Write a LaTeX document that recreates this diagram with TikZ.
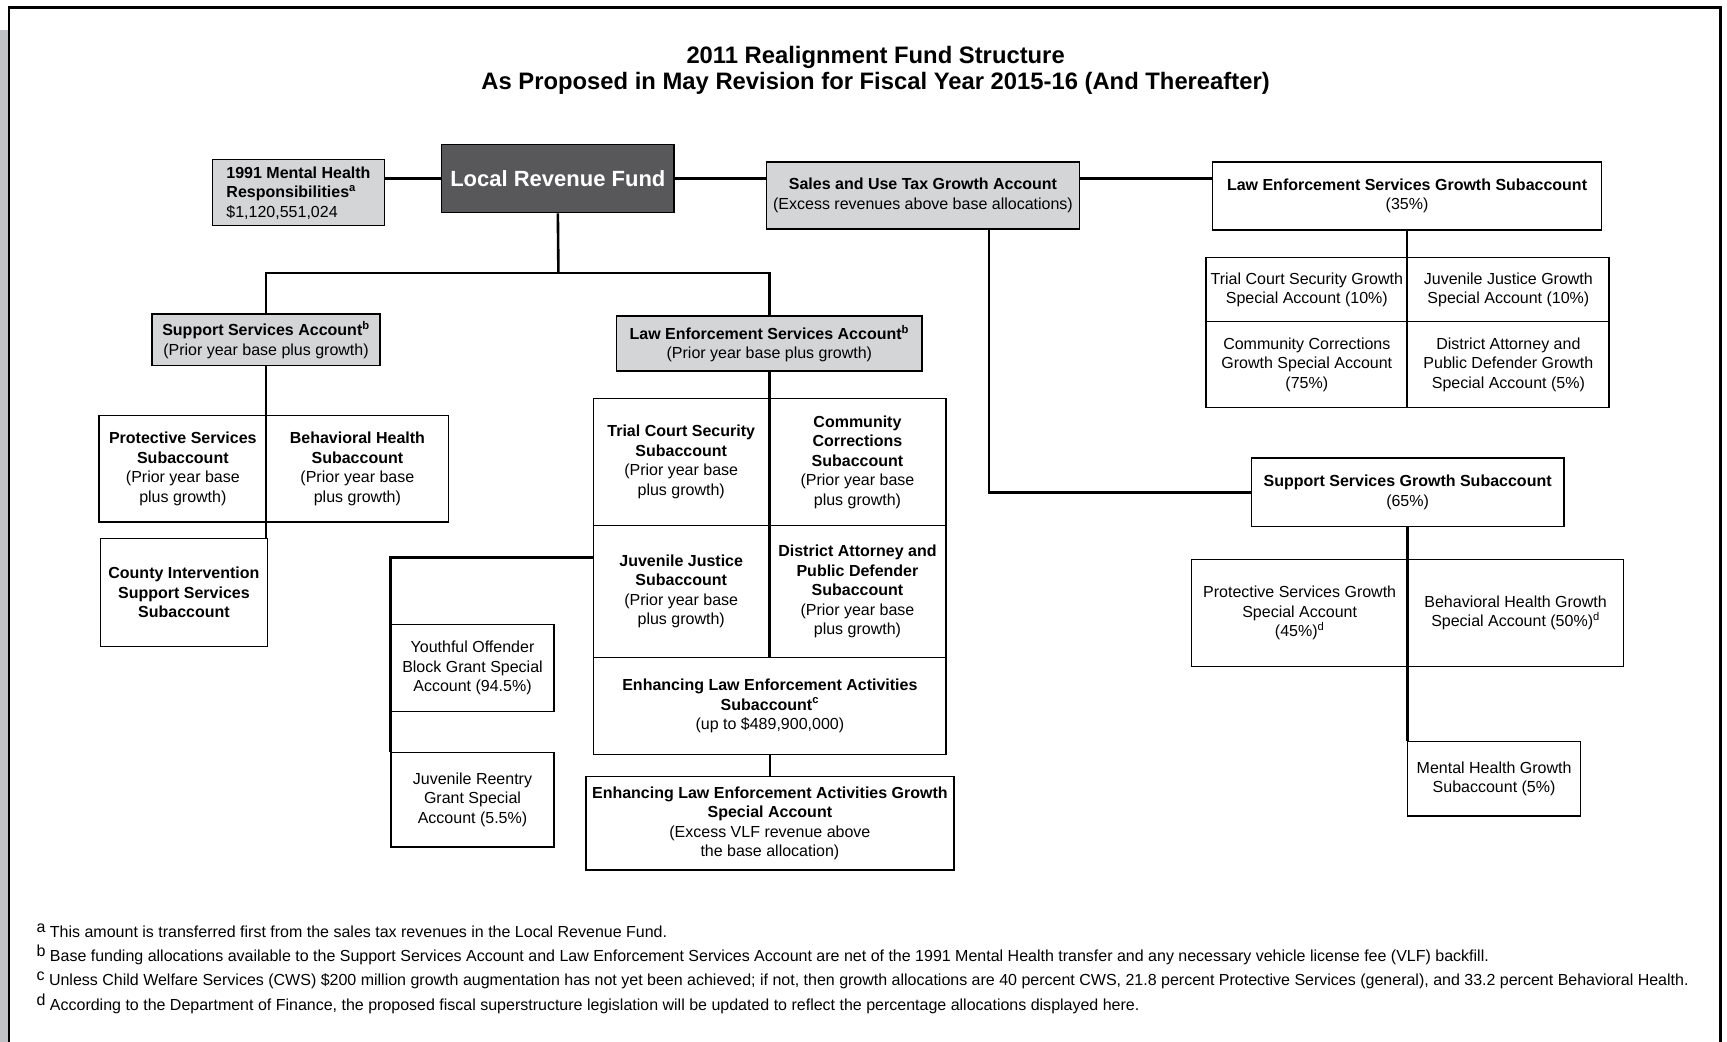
\documentclass[tikz,border=0pt]{standalone}
\usepackage{fontspec}
\setmainfont{Liberation Sans}
\definecolor{lgray}{RGB}{212,213,215}
\definecolor{dgray}{RGB}{88,88,90}
\definecolor{band}{RGB}{192,193,196}
\tikzset{
  conn/.style={line width=2.6pt},
  bx/.style={draw, line width=1.4pt, fill=white, align=center, inner sep=0pt,
    font=\fontsize{16}{19.5}\selectfont},
  gbx/.style={bx, fill=lgray},
  dbx/.style={bx, fill=dgray, text=white, font=\fontsize{22}{26}\selectfont\bfseries},
  fn/.style={inner sep=0pt, font=\fontsize{16}{18}\selectfont},
}
\newcommand\bxat[7]{%
  \node[#2, minimum width={(#5-#3)*1.1014pt}, minimum height={(#6-#4)*1.1014pt}]
    (#1) at ({(#3+#5)/2},{(#4+#6)/2}) {#7};}
\newcommand\fnl[1]{\raisebox{5pt}{#1}\hspace{4.5pt}}
\begin{document}
\begin{tikzpicture}[x=1.1014pt,y=-1.1014pt]
\useasboundingbox (0,0) rectangle (1568,946);
% page frame
\fill[band] (0,27) rectangle (7.5,946);
\draw[line width=2.8pt] (8.2,950) -- (8.2,6.7) -- (1562,6.7) -- (1562,950);

% title
\node[font=\fontsize{23.8}{25.5}\selectfont\bfseries, align=center] (title) at (795,64)
  {2011 Realignment Fund Structure\\As Proposed in May Revision for Fiscal Year 2015-16 (And Thereafter)};

% top row
\bxat{mh}{gbx,align=left}{193}{145}{349}{205}{\textbf{1991 Mental Health}\\\textbf{Responsibilities}\textsuperscript{\textbf{a}}\\\$1,120,551,024}
\bxat{lrf}{dbx}{401}{131}{612}{193}{Local Revenue Fund}
\bxat{sales}{gbx}{696}{147}{980}{208}{\textbf{Sales and Use Tax Growth Account}\\(Excess revenues above base allocations)}
\bxat{lesgs}{bx}{1101}{147}{1454}{209}{\textbf{Law Enforcement Services Growth Subaccount}\\(35\%)}

% law enforcement growth special accounts
\bxat{tcsg}{bx}{1095}{234}{1278}{292}{Trial Court Security Growth\\Special Account (10\%)}
\bxat{jjg}{bx}{1278}{234}{1461}{292}{Juvenile Justice Growth\\Special Account (10\%)}
\bxat{ccg}{bx}{1095}{292}{1278}{370}{Community Corrections\\Growth Special Account\\(75\%)}
\bxat{dapg}{bx}{1278}{292}{1461}{370}{District Attorney and\\Public Defender Growth\\Special Account (5\%)}

% support services growth
\bxat{ssgs}{bx}{1136}{416}{1420}{478}{\textbf{Support Services Growth Subaccount}\\(65\%)}
\bxat{psg}{bx}{1082}{508}{1278}{605}{Protective Services Growth\\Special Account\\(45\%)\textsuperscript{d}}
\bxat{bhg}{bx}{1278}{508}{1474}{605}{Behavioral Health Growth\\Special Account (50\%)\textsuperscript{d}}
\bxat{mhg}{bx}{1278}{673}{1435}{741}{Mental Health Growth\\Subaccount (5\%)}

% accounts
\bxat{ssa}{gbx}{138}{285}{345}{332}{\textbf{Support Services Account}\textsuperscript{\textbf{b}}\\(Prior year base plus growth)}
\bxat{lesa}{gbx}{560}{287}{837}{337}{\textbf{Law Enforcement Services Account}\textsuperscript{\textbf{b}}\\(Prior year base plus growth)}

% support services subaccounts
\bxat{ps}{bx}{90}{377}{242}{474}{\textbf{Protective Services}\\\textbf{Subaccount}\\(Prior year base\\plus growth)}
\bxat{bh}{bx}{242}{377}{407}{474}{\textbf{Behavioral Health}\\\textbf{Subaccount}\\(Prior year base\\plus growth)}
\bxat{cis}{bx}{91}{489}{243}{587}{\textbf{County Intervention}\\\textbf{Support Services}\\\textbf{Subaccount}}

% law enforcement subaccounts
\bxat{tcs}{bx}{539}{362}{698}{477}{\textbf{Trial Court Security}\\\textbf{Subaccount}\\(Prior year base\\plus growth)}
\bxat{cc}{bx}{698}{362}{859}{477}{\textbf{Community}\\\textbf{Corrections}\\\textbf{Subaccount}\\(Prior year base\\plus growth)}
\bxat{jj}{bx}{539}{477}{698}{597}{\textbf{Juvenile Justice}\\\textbf{Subaccount}\\(Prior year base\\plus growth)}
\bxat{dapd}{bx}{698}{477}{859}{597}{\textbf{District Attorney and}\\\textbf{Public Defender}\\\textbf{Subaccount}\\(Prior year base\\plus growth)}
\bxat{elea}{bx}{539}{597}{859}{685}{\textbf{Enhancing Law Enforcement Activities}\\\textbf{Subaccount}\textsuperscript{\textbf{c}}\\(up to \$489,900,000)}
\bxat{eleag}{bx}{532}{705}{866}{790}{\textbf{Enhancing Law Enforcement Activities Growth}\\\textbf{Special Account}\\(Excess VLF revenue above\\the base allocation)}
\bxat{yo}{bx}{355}{567}{503}{646}{Youthful Offender\\Block Grant Special\\Account (94.5\%)}
\bxat{jr}{bx}{355}{683}{503}{769}{Juvenile Reentry\\Grant Special\\Account (5.5\%)}

% connectors
\draw[conn] (mh.east |- lrf.west) -- (lrf.west);
\draw[conn] (lrf.east) -- (lrf.east -| sales.west);
\draw[conn] (lrf.east -| sales.east) -- (lrf.east -| lesgs.west);
\coordinate (j1) at (507,248);
\draw[conn] (lrf.south) -- (j1);
\draw[conn] (ssa.north) |- (j1) -| (lesa.north);
\draw[conn] (ssa.south) -- (ssa.south |- cis.north);
\draw[conn] (lesa.south) -- (lesa.south |- elea.north);
\draw[conn] (elea.south) -- (eleag.north);
\draw[conn] (jj.west |- 0,506) -| (jr.north west);
\draw[conn] (sales.south -| 898,0) |- (ssgs.west);
\draw[conn] (lesgs.south) -- (lesgs.south |- ccg.south);
\draw[conn] (ssgs.south) -- (ssgs.south |- mhg.north);

% footnotes
\node[fn, anchor=base west] (fa) at (33,851) {\fnl{a}This amount is transferred first from the sales tax revenues in the Local Revenue Fund.};
\node[fn, anchor=base west] (fb) at (33,873) {\fnl{b}Base funding allocations available to the Support Services Account and Law Enforcement Services Account are net of the 1991 Mental Health transfer and any necessary vehicle license fee (VLF) backfill.};
\node[fn, anchor=base west] (fc) at (33,895) {\fnl{c}Unless Child Welfare Services (CWS) \$200 million growth augmentation has not yet been achieved; if not, then growth allocations are 40 percent CWS, 21.8 percent Protective Services (general), and 33.2 percent Behavioral Health.};
\node[fn, anchor=base west] (fd) at (33,917) {\fnl{d}According to the Department of Finance, the proposed fiscal superstructure legislation will be updated to reflect the percentage allocations displayed here.};
\end{tikzpicture}
\end{document}
